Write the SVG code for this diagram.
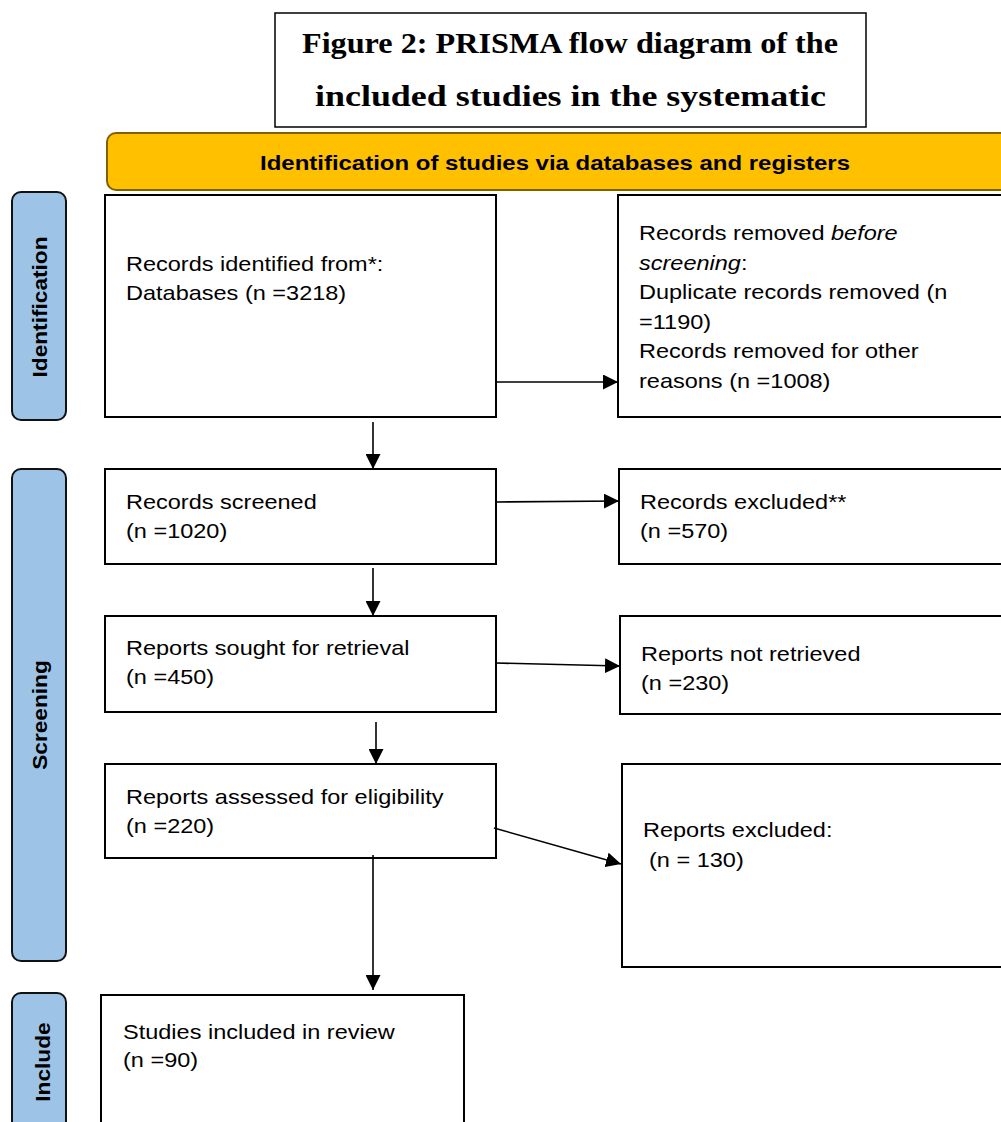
<svg xmlns="http://www.w3.org/2000/svg" width="1001" height="1122" viewBox="0 0 1001 1122">
<style>
.box{fill:#fff;stroke:#000;stroke-width:2}
.side{fill:#9DC3E6;stroke:#111;stroke-width:2}
.t{font-family:"Liberation Sans",Arial,sans-serif;font-size:21px;fill:#000}
.sb{font-family:"Liberation Sans",Arial,sans-serif;font-size:21px;font-weight:bold;fill:#000}
.title{font-family:"Liberation Serif","Times New Roman",serif;font-size:29px;font-weight:bold;fill:#000}
.conn{stroke:#000;stroke-width:1.6;fill:none;marker-end:url(#ah)}
</style>
<defs>
<marker id="ah" markerUnits="userSpaceOnUse" markerWidth="15" markerHeight="15" refX="15" refY="7.5" orient="auto">
<path d="M0,0 L15,7.5 L0,15 Z" fill="#000"/>
</marker>
</defs>
<rect width="1001" height="1122" fill="#fff"/>

<g id="title">
<rect x="275" y="13" width="591" height="114" fill="#fff" stroke="#000" stroke-width="1.5"/>
<text class="title" x="302" y="53" textLength="536" lengthAdjust="spacingAndGlyphs">Figure 2: PRISMA flow diagram of the</text>
<text class="title" x="315" y="106" textLength="511" lengthAdjust="spacingAndGlyphs">included studies in the systematic</text>
</g>

<g id="banner">
<rect x="107" y="133" width="920" height="57" rx="9" fill="#FFC000" stroke="#7F6000" stroke-width="2"/>
<text class="sb" x="260" y="170" textLength="590" lengthAdjust="spacingAndGlyphs">Identification of studies via databases and registers</text>
</g>

<g id="side-identification">
<rect class="side" x="12" y="192" width="54" height="228" rx="9"/>
<text class="sb" text-anchor="middle" transform="translate(47,307) rotate(-90) scale(1.08,1)">Identification</text>
</g>
<g id="side-screening">
<rect class="side" x="12" y="469" width="54" height="492" rx="9"/>
<text class="sb" text-anchor="middle" transform="translate(47,715) rotate(-90) scale(1.08,1)">Screening</text>
</g>
<g id="side-include">
<rect class="side" x="12" y="993" width="54" height="160" rx="9"/>
<text class="sb" text-anchor="middle" transform="translate(50,1062) rotate(-90) scale(1.08,1)">Include</text>
</g>

<g id="n-identified">
<rect class="box" x="105" y="195" width="391" height="222"/>
<text class="t" transform="translate(126,271) scale(1.12,1)">Records identified from*:</text>
<text class="t" transform="translate(126,300) scale(1.12,1)">Databases (n =3218)</text>
</g>

<g id="n-removed">
<rect class="box" x="618" y="195" width="420" height="222"/>
<text class="t" transform="translate(639,240) scale(1.12,1)">Records removed <tspan font-style="italic">before</tspan></text>
<text class="t" transform="translate(639,269.5) scale(1.12,1)"><tspan font-style="italic">screening</tspan>:</text>
<text class="t" transform="translate(639,299) scale(1.12,1)">Duplicate records removed (n</text>
<text class="t" transform="translate(639,328.5) scale(1.12,1)">=1190)</text>
<text class="t" transform="translate(639,358) scale(1.12,1)">Records removed for other</text>
<text class="t" transform="translate(639,387.5) scale(1.12,1)">reasons (n =1008)</text>
</g>

<g id="n-screened">
<rect class="box" x="105" y="469" width="391" height="95"/>
<text class="t" transform="translate(126,509) scale(1.12,1)">Records screened</text>
<text class="t" transform="translate(126,538) scale(1.12,1)">(n =1020)</text>
</g>

<g id="n-excluded">
<rect class="box" x="619" y="469" width="420" height="95"/>
<text class="t" transform="translate(640,509) scale(1.12,1)">Records excluded**</text>
<text class="t" transform="translate(640,538) scale(1.12,1)">(n =570)</text>
</g>

<g id="n-sought">
<rect class="box" x="105" y="616" width="391" height="96"/>
<text class="t" transform="translate(126,655) scale(1.12,1)">Reports sought for retrieval</text>
<text class="t" transform="translate(126,684) scale(1.12,1)">(n =450)</text>
</g>

<g id="n-notretrieved">
<rect class="box" x="620" y="616" width="420" height="98"/>
<text class="t" transform="translate(641,661) scale(1.12,1)">Reports not retrieved</text>
<text class="t" transform="translate(641,690) scale(1.12,1)">(n =230)</text>
</g>

<g id="n-assessed">
<rect class="box" x="105" y="764" width="391" height="94"/>
<text class="t" transform="translate(126,804) scale(1.12,1)">Reports assessed for eligibility</text>
<text class="t" transform="translate(126,833) scale(1.12,1)">(n =220)</text>
</g>

<g id="n-reportsexcluded">
<rect class="box" x="622" y="764" width="420" height="203"/>
<text class="t" transform="translate(643,837) scale(1.12,1)">Reports excluded:</text>
<text class="t" transform="translate(649,867) scale(1.12,1)">(n = 130)</text>
</g>

<g id="n-included">
<rect class="box" x="101" y="995" width="363" height="160"/>
<text class="t" transform="translate(123,1039) scale(1.12,1)">Studies included in review</text>
<text class="t" transform="translate(123,1067) scale(1.12,1)">(n =90)</text>
</g>

<g id="connectors">
<line class="conn" x1="496" y1="382" x2="618" y2="382"/>
<line class="conn" x1="373" y1="422" x2="373" y2="469"/>
<line class="conn" x1="496" y1="502" x2="619" y2="501"/>
<line class="conn" x1="373" y1="568" x2="373" y2="616"/>
<line class="conn" x1="496" y1="663" x2="620" y2="666"/>
<line class="conn" x1="376" y1="722" x2="376" y2="764"/>
<line class="conn" x1="494" y1="828" x2="621" y2="864"/>
<line class="conn" x1="373" y1="855" x2="373" y2="990"/>
</g>
</svg>
